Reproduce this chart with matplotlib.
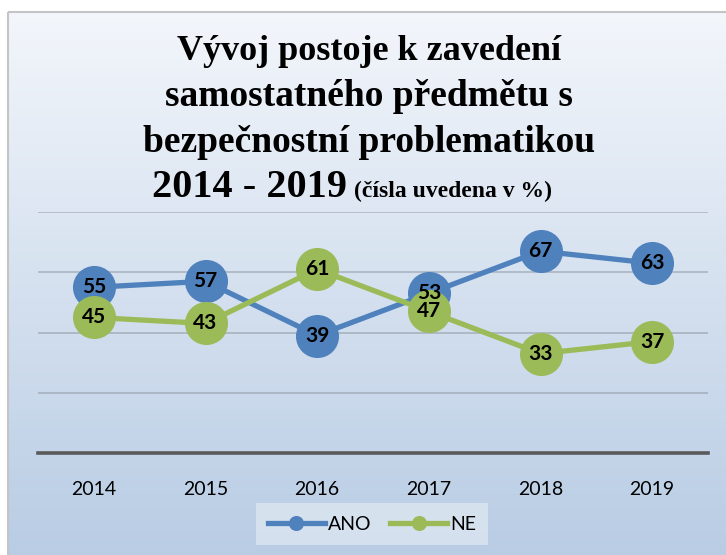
"""Line chart: Vyvoj postoje k zavedeni samostatneho predmetu (ANO / NE)."""

import matplotlib.pyplot as plt
import numpy as np
from matplotlib.colors import LinearSegmentedColormap
from matplotlib.patches import Rectangle

years = ["2014", "2015", "2016", "2017", "2018", "2019"]
ano = [55, 57, 39, 53, 67, 63]
ne = [45, 43, 61, 47, 33, 37]

W, H = 726, 555
fig = plt.figure(figsize=(W / 100, H / 100), dpi=100)

# background with gradient and frame
bg = fig.add_axes([0, 0, 1, 1])
bg.set_xlim(0, W)
bg.set_ylim(H, 0)
bg.axis("off")
cmap = LinearSegmentedColormap.from_list("bg", ["#f3f6fb", "#b8cce4"])
grad = np.linspace(0, 1, 256).reshape(-1, 1)
bg.imshow(grad, cmap=cmap, extent=[8, W + 4, H + 4, 12], aspect="auto")
bg.add_patch(Rectangle((8, 12), W, H, fill=False, edgecolor="#c4c4c4", lw=1.5))

ax = fig.add_axes([38 / W, 1 - 453 / H, 670 / W, 241 / H])
ax.patch.set_alpha(0)
x = np.arange(len(years))

ax.plot(x, ano, color="#4f81bd", lw=3.8, marker="o", ms=31,
        markeredgewidth=0, label="ANO", zorder=3)
ax.plot(x, ne, color="#9bbb59", lw=3.8, marker="o", ms=31,
        markeredgewidth=0, label="NE", zorder=4)

for xi, v in zip(x, ano):
    ax.text(xi, v, str(v), ha="center", va="center", fontsize=15,
            fontweight="bold", family="Lato", zorder=6)
for xi, v in zip(x, ne):
    ax.text(xi, v, str(v), ha="center", va="center", fontsize=15,
            fontweight="bold", family="Lato", zorder=6)

ax.set_xlim(-0.5, 5.5)
ax.set_ylim(0, 80)
ax.set_yticks([20, 40, 60, 80])
ax.yaxis.grid(True, color="#8d96a0", lw=1.3, alpha=0.55)
ax.set_axisbelow(True)
ax.tick_params(axis="y", left=False, labelleft=False)
ax.tick_params(axis="x", length=0, pad=20, labelsize=14)
ax.set_xticks(x)
ax.set_xticklabels(years, family="Lato")
for s in ["top", "right", "left"]:
    ax.spines[s].set_visible(False)
ax.spines["bottom"].set_color("#595959")
ax.spines["bottom"].set_linewidth(2.6)

leg = ax.legend(loc="center", bbox_to_anchor=(372 / W, 1 - 524 / H),
                bbox_transform=fig.transFigure, ncol=2, frameon=True,
                fancybox=False, markerscale=0.35, handlelength=2.9,
                prop={"family": "Lato", "size": 14}, columnspacing=1.0,
                handletextpad=0.15, borderpad=0.65, borderaxespad=0)
leg.get_frame().set_facecolor("#dde6f1")
leg.get_frame().set_alpha(0.8)
leg.get_frame().set_linewidth(0)

# title
serif = "Liberation Serif"
cx = 0.508
fig.text(cx, 1 - 60 / H, "Vývoj postoje k zavedení", ha="center",
         va="baseline", fontsize=26, fontweight="bold", family=serif)
fig.text(cx, 1 - 106 / H, "samostatného předmětu s", ha="center",
         va="baseline", fontsize=27, fontweight="bold", family=serif)
fig.text(cx, 1 - 152 / H, "bezpečnostní problematikou", ha="center",
         va="baseline", fontsize=27, fontweight="bold", family=serif)
fig.text(347 / W, 1 - 197 / H, "2014 - 2019", ha="right",
         va="baseline", fontsize=29, fontweight="bold", family=serif)
fig.text(354 / W, 1 - 197 / H, "(čísla uvedena v %)", ha="left",
         va="baseline", fontsize=17, fontweight="bold", family=serif)

fig.savefig("out.png", dpi=100)
